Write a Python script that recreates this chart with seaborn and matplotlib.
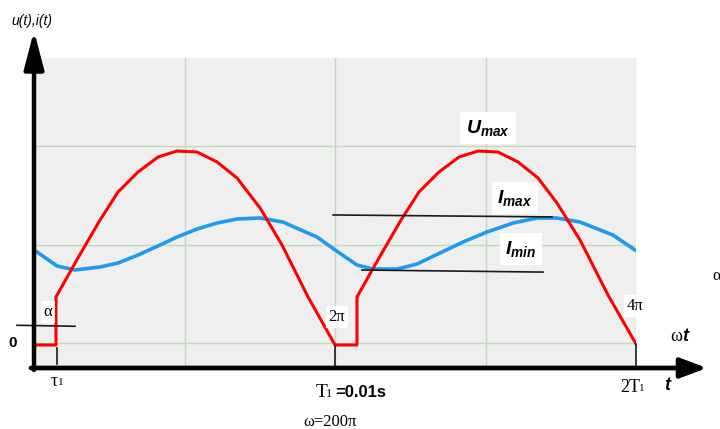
import matplotlib
matplotlib.use("Agg")
import matplotlib.pyplot as plt
import seaborn as sns

# x in units of pi (omega*t / pi), y in grid units
red_x = [0.02, 0.146, 0.146, 0.292, 0.439, 0.558, 0.691, 0.824, 0.950, 1.083, 1.216, 1.349,
         1.502, 1.648, 1.821, 2.0, 2.146, 2.146, 2.292, 2.439, 2.558, 2.691, 2.824, 2.950,
         3.083, 3.216, 3.349, 3.475, 3.628, 3.814, 4.0]
red_y = [-0.02, -0.02, 0.467, 0.863, 1.249, 1.533, 1.736, 1.888, 1.949, 1.939, 1.838, 1.675,
         1.371, 0.995, 0.467, -0.02, -0.02, 0.467, 0.863, 1.249, 1.533, 1.736, 1.888, 1.949,
         1.939, 1.838, 1.675, 1.421, 1.046, 0.487, -0.01]

blue_x = [0.02, 0.153, 0.272, 0.439, 0.558, 0.691, 0.824, 0.950, 1.083, 1.216, 1.349, 1.502,
          1.654, 1.880, 2.020, 2.146, 2.252, 2.412, 2.545, 2.698, 2.850, 3.010, 3.183, 3.342,
          3.475, 3.628, 3.847, 3.993]
blue_y = [0.924, 0.782, 0.741, 0.772, 0.812, 0.893, 0.985, 1.076, 1.157, 1.218, 1.259, 1.269,
          1.228, 1.076, 0.924, 0.792, 0.751, 0.751, 0.802, 0.914, 1.025, 1.127, 1.218, 1.269,
          1.269, 1.228, 1.096, 0.944]

# reference lines: (x0, x1, y0, y1)
alpha_line = (-0.113, 0.272, 0.18, 0.17)
imax_line = (1.987, 3.442, 1.30, 1.28)
imin_line = (2.179, 3.382, 0.741, 0.72)

tick_marks = [(0.153, -0.05, -0.213), (2.0, -0.03, -0.254), (4.0, -0.01, -0.254)]

plt.rcParams["mathtext.fontset"] = "custom"
plt.rcParams["mathtext.bf"] = "Liberation Sans:bold:italic"

fig = plt.figure(figsize=(7.2, 4.29), dpi=100)
ax = fig.add_axes([34 / 720, 61 / 429, 602 / 720, 310 / 429])
ymin, ymax = -25 / 98.5, 285 / 98.5
ax.set_xlim(0, 4)
ax.set_ylim(ymin, ymax)
ax.set_facecolor("#efefef")
ax.set_xticks([1, 2, 3, 4])
ax.set_yticks([0, 1, 2])
ax.grid(color="#bddcb9", lw=1)
ax.tick_params(length=0, labelbottom=False, labelleft=False)
for s in ax.spines.values():
    s.set_visible(False)

sns.lineplot(x=blue_x, y=blue_y, sort=False, estimator=None, color="#1e9bf0", lw=2.6, ax=ax)
sns.lineplot(x=red_x, y=red_y, sort=False, estimator=None, color="#ff0000", lw=2.2, ax=ax)

for x0, x1, y0, y1 in [alpha_line, imax_line, imin_line]:
    ax.plot([x0, x1], [y0, y1], color="#1a1a1a", lw=1.2, clip_on=False)
for x, y0, y1 in tick_marks:
    ax.plot([x, x], [y0, y1], color="#1a1a1a", lw=1.2, clip_on=False)

# axes with arrows
ax.annotate("", xy=(0, 3.17), xytext=(0, ymin - 0.02), annotation_clip=False,
            arrowprops=dict(arrowstyle="-|>,head_length=2.3,head_width=0.6",
                            mutation_scale=10, color="black", lw=3.2, shrinkA=0, shrinkB=0))
ax.annotate("", xy=(4.472, ymin), xytext=(-0.02, ymin), annotation_clip=False,
            arrowprops=dict(arrowstyle="-|>,head_length=1.6,head_width=0.6",
                            mutation_scale=10, color="black", lw=3.4, shrinkA=0, shrinkB=0))

serif = "Liberation Serif"
sans = "Liberation Sans"
wbox = dict(fc="white", ec="none", pad=2)

ax.text(-0.013, 3.27, "u(t),i(t)", family=sans, style="italic", fontsize=10, ha="center", va="center")
ax.text(-0.14, 0.0, "0", family=sans, weight="bold", fontsize=11, ha="center", va="center")
ax.text(0.093, 0.315, "α", family=serif, fontsize=12, ha="center", va="center", bbox=wbox)
ax.text(0.133, -0.39, "τ", family=serif, fontsize=13, ha="center", va="center")
ax.text(0.18, -0.40, "1", family=serif, fontsize=8, ha="center", va="center")
ax.text(2.013, 0.264, "2π", family=serif, fontsize=12, ha="center", va="center", bbox=wbox)
ax.text(3.993, 0.376, "4π", family=serif, fontsize=12, ha="center", va="center", bbox=wbox)
ax.text(1.91, -0.50, "T", family=serif, fontsize=14, ha="center", va="center")
ax.text(1.96, -0.52, "1", family=serif, fontsize=9, ha="center", va="center")
ax.text(2.0, -0.50, "=0.01s", family=sans, weight="bold", fontsize=12, ha="left", va="center")
ax.text(1.967, -0.80, "ω=200π", family=serif, fontsize=12, ha="center", va="center")
ax.text(3.96, -0.447, "2T", family=serif, fontsize=13, ha="center", va="center")
ax.text(4.04, -0.46, "1", family=serif, fontsize=8, ha="center", va="center")
ax.text(4.205, -0.43, "t", family=sans, weight="bold", style="italic", fontsize=13, ha="center", va="center")
ax.text(4.306, 0.061, "ω", family=serif, fontsize=13, ha="right", va="center")
ax.text(4.306, 0.061, "t", family=sans, weight="bold", style="italic", fontsize=13, ha="left", va="center")
ax.text(4.51, 0.68, "α", family=serif, fontsize=12, ha="left", va="center")

ax.text(3.017, 2.183, r"$\mathbf{U_{max}}$", fontsize=14, ha="center", va="center",
        bbox=dict(fc="white", ec="none", pad=4))
ax.text(3.196, 1.472, r"$\mathbf{I_{max}}$", fontsize=14, ha="center", va="center",
        bbox=dict(fc="white", ec="none", pad=4))
ax.text(3.236, 0.954, r"$\mathbf{I_{min}}$", fontsize=14, ha="center", va="center",
        bbox=dict(fc="white", ec="none", pad=4))

fig.savefig("out.png", dpi=100)
